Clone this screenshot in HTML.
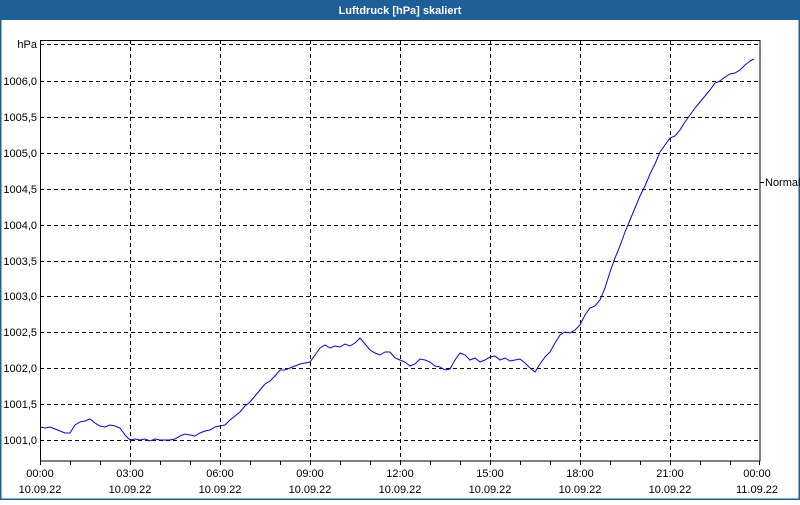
<!DOCTYPE html>
<html><head><style>
body{margin:0;width:800px;height:500px;overflow:hidden;background:#fff;font-family:"Liberation Sans",sans-serif}
</style></head><body>
<svg width="800" height="500" xmlns="http://www.w3.org/2000/svg" font-family="Liberation Sans, sans-serif" font-size="11">
<rect x="0" y="0" width="800" height="500" fill="#fff"/>
<rect x="0.5" y="0.5" width="799" height="499" fill="none" stroke="#1c5f99" stroke-width="2"/>
<rect x="0" y="0" width="800" height="20" fill="#1c5f99"/>
<text x="400" y="14" fill="#fff" font-weight="bold" text-anchor="middle" font-size="11">Luftdruck [hPa] skaliert</text>
<g stroke="#000" stroke-dasharray="4,3" stroke-width="1">
<line x1="40" y1="44.5" x2="760" y2="44.5"/>
<line x1="40" y1="81.5" x2="760" y2="81.5"/>
<line x1="40" y1="117.5" x2="760" y2="117.5"/>
<line x1="40" y1="153.5" x2="760" y2="153.5"/>
<line x1="40" y1="189.5" x2="760" y2="189.5"/>
<line x1="40" y1="225.5" x2="760" y2="225.5"/>
<line x1="40" y1="261.5" x2="760" y2="261.5"/>
<line x1="40" y1="296.5" x2="760" y2="296.5"/>
<line x1="40" y1="332.5" x2="760" y2="332.5"/>
<line x1="40" y1="368.5" x2="760" y2="368.5"/>
<line x1="40" y1="404.5" x2="760" y2="404.5"/>
<line x1="40" y1="440.5" x2="760" y2="440.5"/>
<line x1="130.5" y1="40" x2="130.5" y2="461"/>
<line x1="220.5" y1="40" x2="220.5" y2="461"/>
<line x1="310.5" y1="40" x2="310.5" y2="461"/>
<line x1="400.5" y1="40" x2="400.5" y2="461"/>
<line x1="490.5" y1="40" x2="490.5" y2="461"/>
<line x1="580.5" y1="40" x2="580.5" y2="461"/>
<line x1="670.5" y1="40" x2="670.5" y2="461"/>
</g>
<rect x="40.5" y="40.5" width="719.5" height="420.5" fill="none" stroke="#000"/>
<g stroke="#000">
<line x1="40.5" y1="461" x2="40.5" y2="465"/><line x1="70.5" y1="461" x2="70.5" y2="465"/><line x1="100.5" y1="461" x2="100.5" y2="465"/><line x1="130.5" y1="461" x2="130.5" y2="465"/><line x1="160.5" y1="461" x2="160.5" y2="465"/><line x1="190.5" y1="461" x2="190.5" y2="465"/><line x1="220.5" y1="461" x2="220.5" y2="465"/><line x1="250.5" y1="461" x2="250.5" y2="465"/><line x1="280.5" y1="461" x2="280.5" y2="465"/><line x1="310.5" y1="461" x2="310.5" y2="465"/><line x1="340.5" y1="461" x2="340.5" y2="465"/><line x1="370.5" y1="461" x2="370.5" y2="465"/><line x1="400.5" y1="461" x2="400.5" y2="465"/><line x1="430.5" y1="461" x2="430.5" y2="465"/><line x1="460.5" y1="461" x2="460.5" y2="465"/><line x1="490.5" y1="461" x2="490.5" y2="465"/><line x1="520.5" y1="461" x2="520.5" y2="465"/><line x1="550.5" y1="461" x2="550.5" y2="465"/><line x1="580.5" y1="461" x2="580.5" y2="465"/><line x1="610.5" y1="461" x2="610.5" y2="465"/><line x1="640.5" y1="461" x2="640.5" y2="465"/><line x1="670.5" y1="461" x2="670.5" y2="465"/><line x1="700.5" y1="461" x2="700.5" y2="465"/><line x1="730.5" y1="461" x2="730.5" y2="465"/><line x1="759.5" y1="461" x2="759.5" y2="465"/>
<line x1="760" y1="182.5" x2="764" y2="182.5"/>
</g>
<g text-anchor="end" fill="#000">
<text x="37" y="48">hPa</text>
<text x="37" y="85">1006,0</text>
<text x="37" y="121">1005,5</text>
<text x="37" y="157">1005,0</text>
<text x="37" y="193">1004,5</text>
<text x="37" y="229">1004,0</text>
<text x="37" y="265">1003,5</text>
<text x="37" y="300">1003,0</text>
<text x="37" y="336">1002,5</text>
<text x="37" y="372">1002,0</text>
<text x="37" y="408">1001,5</text>
<text x="37" y="444">1001,0</text>
</g>
<text x="765" y="186" fill="#000">Normal</text>
<g text-anchor="middle" fill="#000">
<text x="40" y="477">00:00</text><text x="40" y="493">10.09.22</text>
<text x="130" y="477">03:00</text><text x="130" y="493">10.09.22</text>
<text x="220" y="477">06:00</text><text x="220" y="493">10.09.22</text>
<text x="310" y="477">09:00</text><text x="310" y="493">10.09.22</text>
<text x="400" y="477">12:00</text><text x="400" y="493">10.09.22</text>
<text x="490" y="477">15:00</text><text x="490" y="493">10.09.22</text>
<text x="580" y="477">18:00</text><text x="580" y="493">10.09.22</text>
<text x="670" y="477">21:00</text><text x="670" y="493">10.09.22</text>
<text x="757" y="477">00:00</text><text x="757" y="493">11.09.22</text>
</g>
<polyline fill="none" stroke="#0000ff" stroke-width="1" points="40,427 45,428 50,427 55,429 60,431 65,433 70,433 75,425 80,422 85,421 90,419 95,423 100,426 105,427 110,425 115,426 120,428 125,435 130,440 135,439 140,440 145,439 150,441 155,439 160,440 165,440 170,440 175,439 180,436 185,434 190,435 195,436 200,433 205,431 210,430 215,427 220,426 225,425 230,420 235,416 240,412 245,406 250,402 255,396 260,390 265,384 270,381 275,376 280,370 285,370 290,368 295,366 300,364 305,363 310,362 315,355 320,348 325,345 330,348 335,346 340,347 345,344 350,346 355,343 360,338 365,344 370,350 375,353 380,355 385,352 390,352 395,358 400,360 405,362 410,366 415,364 420,359 425,360 430,362 435,366 440,367 445,370 450,369 455,360 460,353 465,355 470,360 475,358 480,362 485,360 490,357 495,356 500,360 505,358 510,361 515,360 520,359 525,363 530,368 535,372 540,364 545,357 550,352 555,343 560,335 565,332 570,333 575,330 580,325 585,315 590,308 595,306 600,300 605,288 610,272 615,258 620,246 625,232 630,220 635,208 640,196 645,186 650,174 655,164 660,152 665,145 670,138 675,136 680,130 685,122 690,115 695,108 700,102 705,96 710,90 715,83 720,81 725,77 730,74 735,73 740,70 745,65 750,61 754,59"/>
</svg>
</body></html>
